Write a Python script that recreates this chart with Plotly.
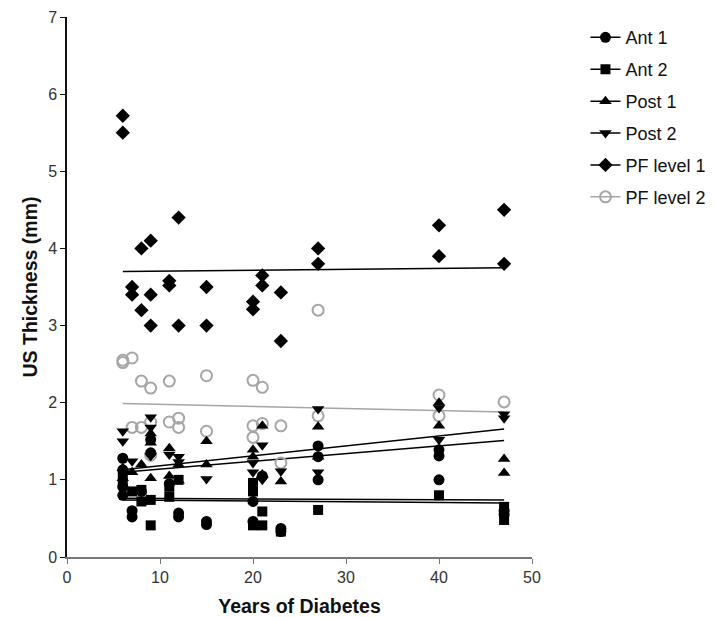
import plotly.graph_objects as go

# ---- data ----
ant1_x = [6, 6, 6, 6, 7, 7, 8, 9, 9, 11, 12, 12, 15, 15, 20, 20, 21, 23, 23, 27, 27, 27, 40, 40, 40, 47, 47]
ant1_y = [1.28, 1.13, 0.91, 0.80, 0.60, 0.52, 0.85, 1.52, 1.35, 0.95, 0.57, 0.52, 0.46, 0.42, 0.72, 0.46, 1.05, 0.37, 0.33, 1.44, 1.30, 1.00, 1.39, 1.31, 1.00, 0.60, 0.55]

ant2_x = [6, 6, 7, 8, 8, 9, 9, 11, 11, 12, 20, 20, 20, 21, 21, 23, 27, 40, 47, 47]
ant2_y = [1.05, 0.95, 0.85, 0.87, 0.72, 0.74, 0.41, 0.78, 0.91, 1.00, 0.96, 0.85, 0.41, 0.59, 0.41, 0.33, 0.61, 0.80, 0.65, 0.48]

post1_x = [6, 6, 7, 8, 9, 9, 9, 11, 11, 12, 12, 15, 15, 20, 20, 21, 21, 23, 27, 27, 40, 40, 47, 47]
post1_y = [1.02, 1.15, 1.10, 1.20, 1.60, 1.48, 1.02, 1.41, 1.05, 1.20, 0.99, 1.50, 1.20, 1.39, 1.30, 1.70, 1.07, 0.98, 1.69, 1.30, 2.00, 1.70, 1.27, 1.09]

post2_x = [6, 6, 7, 9, 9, 9, 11, 12, 12, 15, 20, 20, 21, 21, 23, 27, 27, 40, 40, 47, 47]
post2_y = [1.63, 1.50, 1.24, 1.81, 1.68, 1.31, 1.33, 1.30, 1.23, 1.01, 1.22, 1.10, 1.45, 1.00, 1.11, 1.92, 1.10, 1.93, 1.52, 1.85, 1.80]

pf1_x = [6, 6, 7, 7, 8, 8, 9, 9, 9, 11, 11, 12, 12, 15, 15, 20, 20, 21, 21, 23, 23, 27, 27, 40, 40, 47, 47]
pf1_y = [5.72, 5.50, 3.50, 3.40, 4.00, 3.20, 4.10, 3.40, 3.00, 3.58, 3.52, 4.40, 3.00, 3.50, 3.00, 3.31, 3.21, 3.65, 3.52, 3.43, 2.80, 4.00, 3.80, 4.30, 3.90, 4.50, 3.80]

pf2_x = [6, 6, 7, 7, 8, 8, 9, 9, 9, 11, 11, 12, 12, 15, 15, 20, 20, 20, 21, 21, 23, 23, 27, 27, 40, 40, 47]
pf2_y = [2.52, 2.55, 2.58, 1.68, 2.28, 1.68, 2.19, 1.75, 1.32, 2.28, 1.75, 1.80, 1.68, 2.35, 1.63, 2.29, 1.70, 1.55, 2.20, 1.73, 1.70, 1.22, 3.20, 1.83, 2.10, 1.83, 2.01]

# regression lines (end values)
fit_x = [6, 47]
ant1_fit = [0.74, 0.70]
ant2_fit = [0.76, 0.74]
post1_fit = [1.13, 1.66]
post2_fit = [1.10, 1.51]
pf1_fit = [3.70, 3.75]
pf2_fit = [1.99, 1.88]

names = ["Ant 1", "Ant 2", "Post 1", "Post 2", "PF level 1", "PF level 2"]

BLACK = "#000000"
GRAY = "#a6a6a6"
FONT = "Arial, Liberation Sans, sans-serif"

fig = go.Figure()

# fit lines
for fy, col in [(ant1_fit, BLACK), (ant2_fit, BLACK), (post1_fit, BLACK),
                (post2_fit, BLACK), (pf1_fit, BLACK), (pf2_fit, GRAY)]:
    fig.add_trace(go.Scatter(x=fit_x, y=fy, mode="lines",
                             line=dict(color=col, width=1.5),
                             showlegend=False, hoverinfo="skip"))

styles = {
    "Ant 1": dict(symbol="circle", size=11, color=BLACK),
    "Ant 2": dict(symbol="square", size=10, color=BLACK),
    "Post 1": dict(symbol="triangle-up", size=11, color=BLACK),
    "Post 2": dict(symbol="triangle-down", size=11, color=BLACK),
    "PF level 1": dict(symbol="diamond", size=11, color=BLACK),
    "PF level 2": dict(symbol="circle-open", size=11, color=GRAY, line=dict(width=2, color=GRAY)),
}

series = {
    "Ant 1": (ant1_x, ant1_y),
    "Ant 2": (ant2_x, ant2_y),
    "Post 1": (post1_x, post1_y),
    "Post 2": (post2_x, post2_y),
    "PF level 1": (pf1_x, pf1_y),
    "PF level 2": (pf2_x, pf2_y),
}

# draw gray open circles first, black markers on top
for nm in ["PF level 2", "PF level 1", "Post 2", "Post 1", "Ant 2", "Ant 1"]:
    xs, ys = series[nm]
    fig.add_trace(go.Scatter(x=xs, y=ys, mode="markers", marker=styles[nm],
                             showlegend=False, name=nm))

# legend entries (line + marker glyphs)
for i, nm in enumerate(names):
    col = GRAY if nm == "PF level 2" else BLACK
    fig.add_trace(go.Scatter(x=[None], y=[None], mode="lines+markers", name=nm,
                             marker=styles[nm], line=dict(color=col, width=1.5),
                             legendgroup=nm, showlegend=True))

fig.update_layout(
    width=714, height=617,
    margin=dict(l=67, r=182, t=17, b=60, autoexpand=False),
    paper_bgcolor="white", plot_bgcolor="white",
    font=dict(family=FONT, size=16, color="#333"),
    showlegend=True,
    legend=dict(x=1.115, y=0.996, xanchor="left", yanchor="top",
                font=dict(family=FONT, size=18, color="#111"),
                tracegroupgap=5.5, itemwidth=30, bgcolor="rgba(0,0,0,0)"),
    xaxis=dict(range=[0, 50], tickvals=[0, 10, 20, 30, 40, 50],
               showgrid=False, zeroline=False, showline=True,
               linecolor="#777", linewidth=1.5, ticks="outside",
               ticklen=5, tickcolor="#777",
               tickfont=dict(family=FONT, size=16, color="#333"),
               title=dict(text="<b>Years of Diabetes</b>", standoff=16,
                          font=dict(family=FONT, size=19.5, color="#111"))),
    yaxis=dict(range=[0, 7], tickvals=[0, 1, 2, 3, 4, 5, 6, 7],
               showgrid=False, zeroline=False, showline=True,
               linecolor="#111", linewidth=1.5, ticks="outside",
               ticklen=5, tickcolor="#111",
               tickfont=dict(family=FONT, size=16, color="#333"),
               title=dict(text="<b>US Thickness (mm)</b>", standoff=5,
                          font=dict(family=FONT, size=19.5, color="#111"))),
)

fig.write_html("out.html")
